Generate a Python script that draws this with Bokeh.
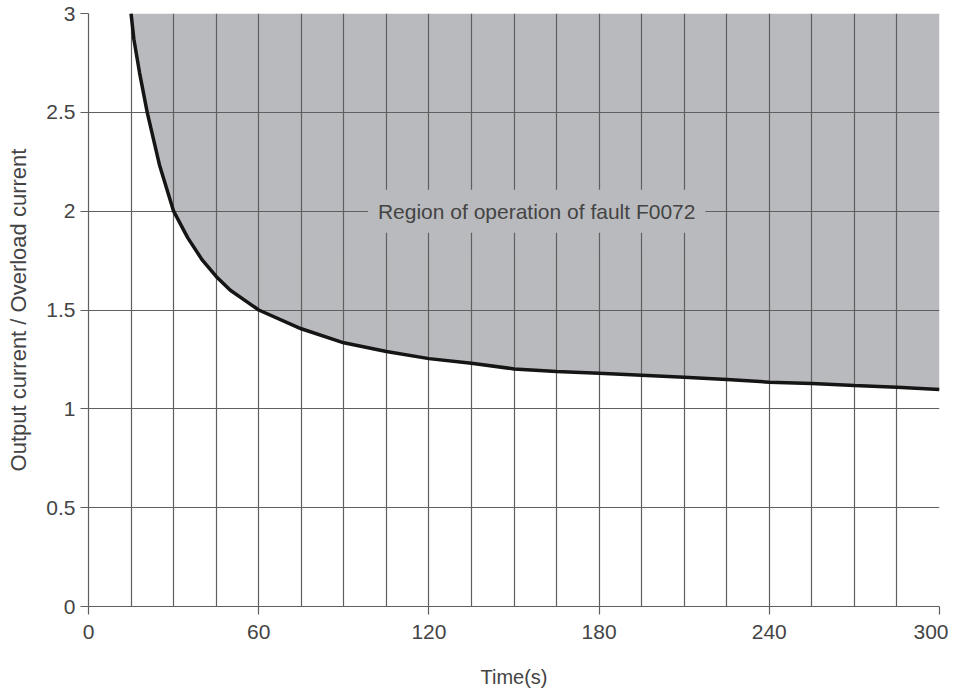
from bokeh.plotting import figure
from bokeh.models import Label, FixedTicker, Range1d
from bokeh.embed import file_html
from bokeh.resources import INLINE

# Curve: overload limit (time in s, ratio output/overload current)
time_s = [15, 16, 18, 20.7, 25, 30, 35, 40, 45, 50, 55, 60, 75, 90, 105, 120,
          135, 150, 165, 180, 195, 210, 225, 240, 255, 270, 285, 300]
ratio = [3.0, 2.87, 2.7, 2.5, 2.235, 2.0, 1.865, 1.755, 1.67, 1.6, 1.55, 1.5,
         1.405, 1.334, 1.29, 1.254, 1.231, 1.202, 1.189, 1.18, 1.17, 1.16,
         1.148, 1.135, 1.128, 1.118, 1.109, 1.098]
y_top = 3.0

x_ticks = [0, 60, 120, 180, 240, 300]
x_grid = list(range(0, 301, 15))
y_ticks = [0, 0.5, 1, 1.5, 2, 2.5, 3]
region_label = "Region of operation of fault F0072"
x_label = "Time(s)"
y_label = "Output current / Overload current"

FONT = "Liberation Sans"
TXT = "#444444"
GRID = "#5f5f5f"
FILL = "#b9babd"

p = figure(frame_width=851, frame_height=593, output_backend="svg",
           toolbar_location=None, x_range=Range1d(0, 300), y_range=Range1d(0, 3),
           min_border_left=88, min_border_right=9, min_border_top=13,
           min_border_bottom=76)
p.outline_line_color = None
p.background_fill_color = "white"

fill = p.varea(x=time_s, y1=ratio, y2=[y_top] * len(time_s), fill_color=FILL)
fill.level = "image"
p.line(time_s, ratio, line_color="#151515", line_width=3.5)

p.xaxis.ticker = FixedTicker(ticks=x_ticks)
p.yaxis.ticker = FixedTicker(ticks=y_ticks)
p.xgrid.ticker = FixedTicker(ticks=x_grid)
p.ygrid.ticker = FixedTicker(ticks=y_ticks)
for g in (p.xgrid, p.ygrid):
    g.grid_line_color = GRID
    g.grid_line_width = 1.2

for ax in (p.xaxis, p.yaxis):
    ax.axis_line_color = GRID
    ax.axis_line_width = 1.2
    ax.major_tick_line_color = GRID
    ax.major_tick_line_width = 1.2
    ax.major_tick_in = 0
    ax.major_tick_out = 8
    ax.minor_tick_line_color = None
    ax.major_label_text_font = FONT
    ax.major_label_text_font_size = "21px"
    ax.major_label_text_color = TXT
    ax.axis_label_text_font = FONT
    ax.axis_label_text_font_style = "normal"
    ax.axis_label_text_color = TXT

p.xaxis.axis_label_text_font_size = "20px"
p.yaxis.axis_label_text_font_size = "22px"
p.xaxis.axis_label = x_label
p.yaxis.axis_label = y_label
p.xaxis.major_label_standoff = 10
p.xaxis.axis_label_standoff = 24
p.yaxis.major_label_standoff = 5
p.yaxis.axis_label_standoff = 12
p.xaxis.major_label_overrides = {t: str(t) for t in x_ticks}
p.yaxis.major_label_overrides = {0: "0", 0.5: "0.5", 1: "1", 1.5: "1.5",
                                 2: "2", 2.5: "2.5", 3: "3"}

lab = Label(x=158, y=2, text=region_label, text_align="center",
            text_baseline="middle", text_font=FONT, text_font_size="21px",
            text_color=TXT, background_fill_color=FILL, padding=10)
p.add_layout(lab)

open("out.html", "w").write(file_html(p, INLINE))
